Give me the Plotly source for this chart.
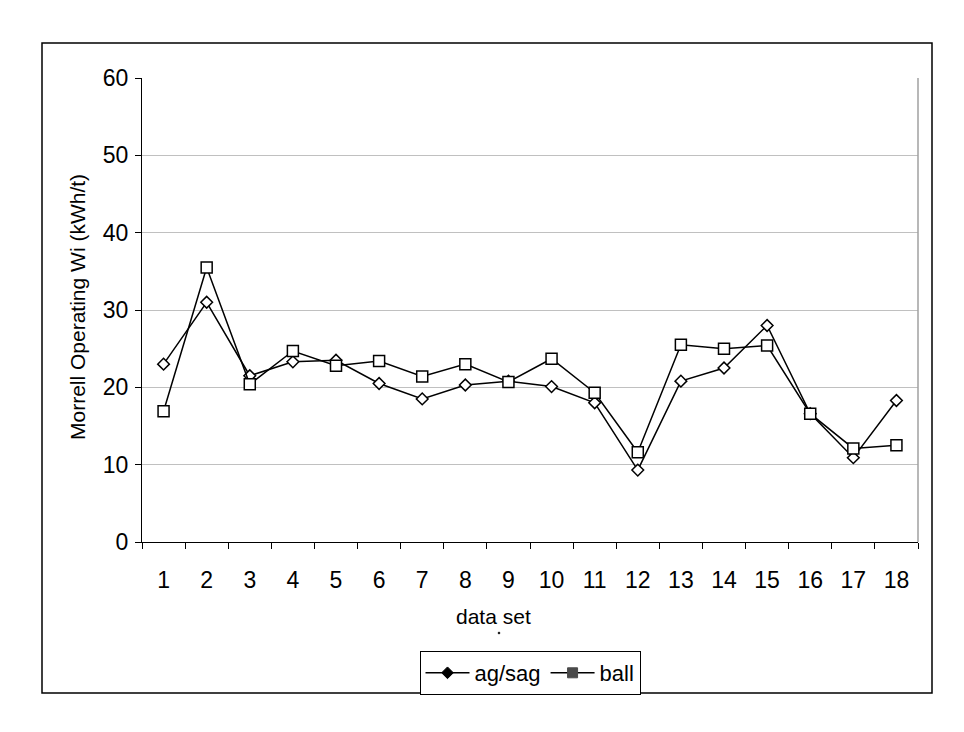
import plotly.graph_objects as go

categories = [str(i) for i in range(1, 19)]
ag_sag = [23.0, 31.0, 21.5, 23.3, 23.5, 20.5, 18.5, 20.3, 20.8, 20.1,
          18.0, 9.3, 20.8, 22.5, 28.0, 16.6, 10.9, 18.3]
ball = [16.9, 35.5, 20.4, 24.7, 22.8, 23.4, 21.4, 23.0, 20.7, 23.7,
        19.3, 11.6, 25.5, 25.0, 25.4, 16.6, 12.1, 12.5]
y_ticks = [0, 10, 20, 30, 40, 50, 60]

FONT = "Liberation Sans, Arial, sans-serif"
L, R, T, B = 142, 46, 78, 190
W, H = 964, 732
PW, PH = W - L - R, H - T - B


def px_x(px):
    return (px - L) / PW


def px_y(py):
    return (H - B - py) / PH


fig = go.Figure()
fig.add_trace(go.Scatter(
    x=categories, y=ag_sag, mode="lines+markers", name="ag/sag", showlegend=False,
    line=dict(color="black", width=1.5),
    marker=dict(symbol="diamond", size=9, color="white", line=dict(color="black", width=1.5)),
))
fig.add_trace(go.Scatter(
    x=categories, y=ball, mode="lines+markers", name="ball", showlegend=False,
    line=dict(color="black", width=1.5),
    marker=dict(symbol="square", size=11, color="white", line=dict(color="black", width=1.5)),
))
# legend entries (filled markers as in the original legend)
fig.add_trace(go.Scatter(
    x=[None], y=[None], mode="lines+markers", name="ag/sag",
    line=dict(color="black", width=1.5),
    marker=dict(symbol="diamond", size=9, color="black", line=dict(color="black", width=1)),
))
fig.add_trace(go.Scatter(
    x=[None], y=[None], mode="lines+markers", name="ball",
    line=dict(color="black", width=1.5),
    marker=dict(symbol="square", size=10, color="#4a4a4a", line=dict(color="#4a4a4a", width=1)),
))

fig.update_layout(
    width=W, height=H,
    margin=dict(l=L, r=R, t=T, b=B),
    paper_bgcolor="white", plot_bgcolor="white",
    font=dict(family=FONT, color="black"),
    showlegend=True,
    legend=dict(
        orientation="h", x=px_x(530), xanchor="center", y=px_y(651), yanchor="top",
        bordercolor="black", borderwidth=1, bgcolor="white",
        font=dict(size=22, family=FONT, color="black"),
        itemwidth=44, tracegroupgap=0,
    ),
    xaxis=dict(
        type="category", categoryorder="array", categoryarray=categories,
        range=[-0.5, len(categories) - 0.5],
        showline=True, linecolor="black", linewidth=1,
        ticks="outside", tickson="boundaries", ticklen=6, tickcolor="black",
        showgrid=False, zeroline=False,
        tickfont=dict(size=23, family=FONT, color="black"),
        ticklabelstandoff=17,
    ),
    yaxis=dict(
        range=[0, 60], tickvals=y_ticks,
        showline=True, linecolor="black", linewidth=1,
        ticks="outside", ticklen=6, tickcolor="black",
        showgrid=True, gridcolor="#c0c0c0", gridwidth=1, zeroline=False,
        tickfont=dict(size=23, family=FONT, color="black"),
        ticklabelstandoff=2,
    ),
    shapes=[
        # outer chart border
        dict(type="rect", xref="paper", yref="paper",
             x0=px_x(42), x1=px_x(932), y0=px_y(693), y1=px_y(43),
             line=dict(color="black", width=1.5), layer="below"),
        # plot area right border
        dict(type="line", xref="paper", yref="paper", x0=1, x1=1, y0=0, y1=1,
             line=dict(color="#a0a0a0", width=1.5)),
        # small stray dot beneath the axis title
        dict(type="circle", xref="paper", yref="paper",
             x0=px_x(498), x1=px_x(500), y0=px_y(634), y1=px_y(632),
             line=dict(color="black", width=0.5), fillcolor="black"),
    ],
    annotations=[
        dict(text="Morrell Operating Wi (kWh/t)", xref="paper", yref="paper",
             x=px_x(77), y=px_y(307), textangle=-90, showarrow=False,
             xanchor="center", yanchor="middle",
             font=dict(size=21, family=FONT, color="black")),
        dict(text="data set", xref="paper", yref="paper",
             x=px_x(493), y=px_y(616), showarrow=False,
             xanchor="center", yanchor="middle",
             font=dict(size=21, family=FONT, color="black")),
    ],
)

fig.write_html("out.html")
